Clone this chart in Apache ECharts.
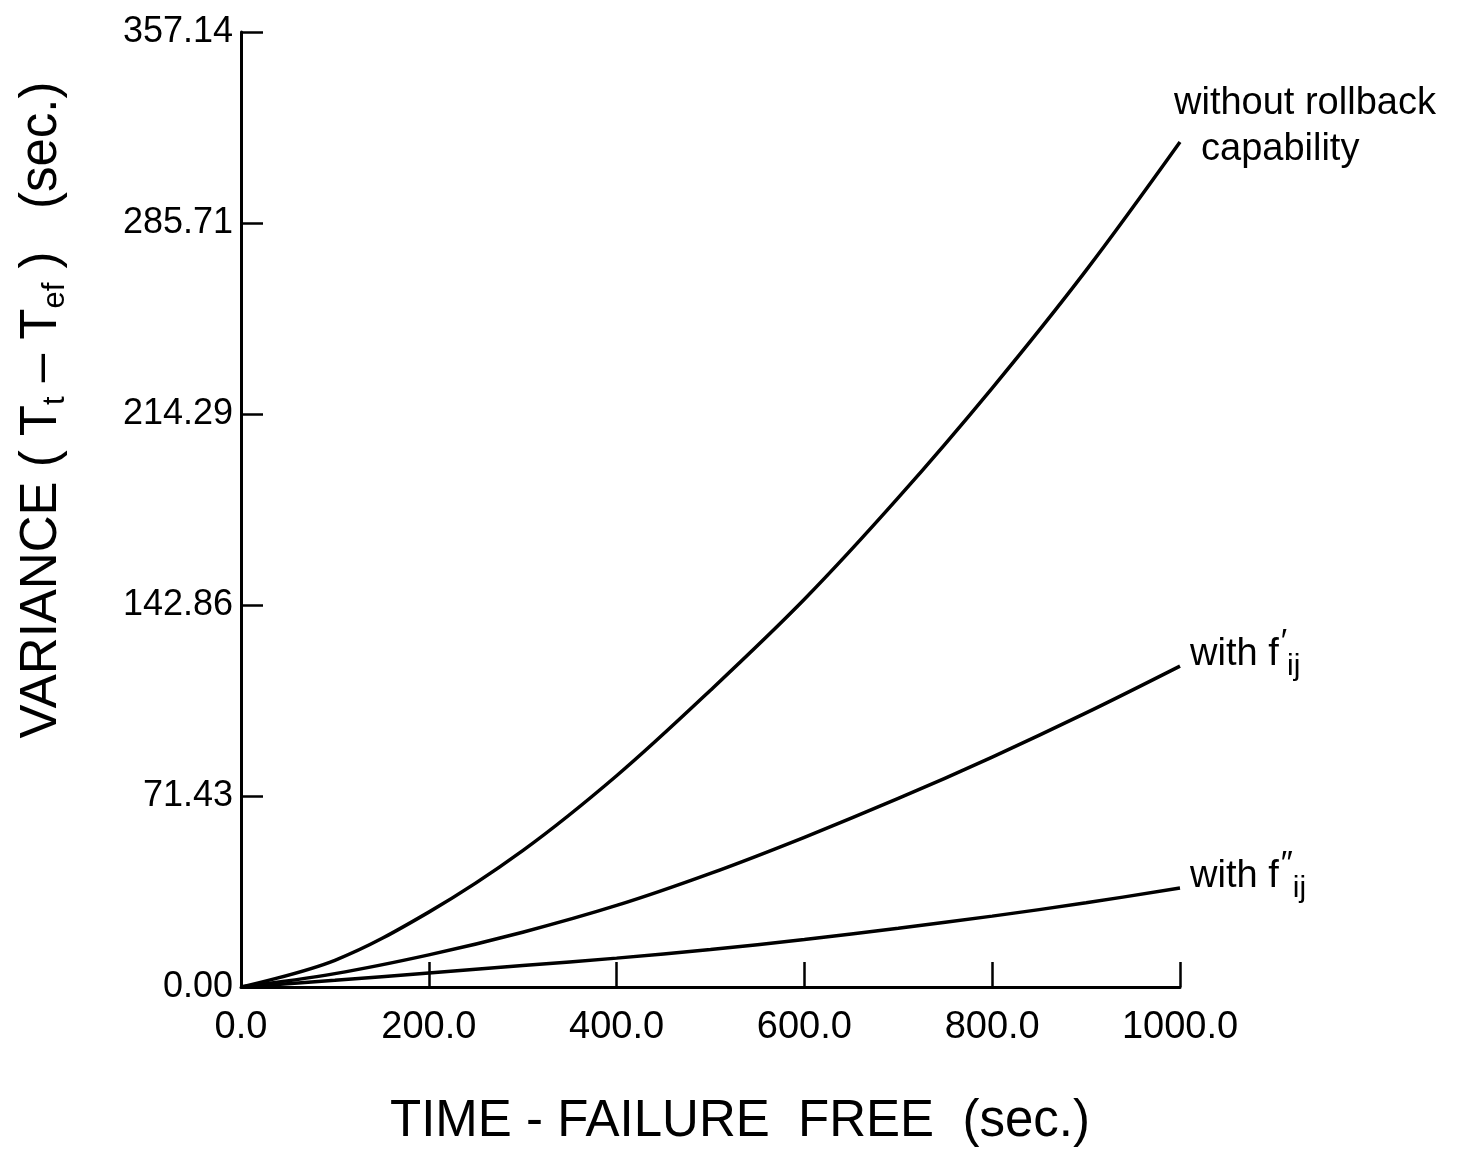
<!DOCTYPE html>
<html>
<head>
<meta charset="utf-8">
<script src="https://cdn.jsdelivr.net/npm/echarts@6/dist/echarts.min.js"></script>
<style>
html,body{margin:0;padding:0;background:#fff;}
#chart{width:1467px;height:1151px;}
</style>
</head>
<body>
<div id="chart"></div>
<script>
// ---- data ----
const xValues = [0, 100, 200, 300, 400, 500, 600, 700, 800, 900, 1000];
const withoutRollback = [0, 10, 28, 51, 79, 111, 145, 183, 224, 268, 316];
const withFPrime = [0, 5, 12, 20.5, 30.5, 42.5, 56, 70.5, 86, 102.5, 120];
const withFDoublePrime = [0, 2.5, 5.2, 8, 10.8, 14, 17.8, 22, 26.5, 31.5, 37];
const yTickLabels = ['0.00', '71.43', '142.86', '214.29', '285.71', '357.14'];
const xTickLabels = ['0.0', '200.0', '400.0', '600.0', '800.0', '1000.0'];

const FONT = 'Liberation Sans';
const yMax = 2500 / 7;
const yInterval = 500 / 7;

function pairs(vals) { return xValues.map((x, i) => [x, vals[i]]); }

const chart = echarts.init(document.getElementById('chart'), null, {renderer: 'canvas'});

const lineStyle = {color: '#000', width: 3.5};
const subRich = {
  a: {fontFamily: FONT, fontSize: 38, color: '#000'},
  sup: {fontFamily: FONT, fontSize: 34, color: '#000', verticalAlign: 'top', padding: [0, 0, 16, 2]},
  sub: {fontFamily: FONT, fontSize: 30, color: '#000', verticalAlign: 'bottom', padding: [26, 0, 0, 0]}
};

chart.setOption({
  backgroundColor: '#fff',
  animation: false,
  grid: {left: 241, right: 287, top: 32, bottom: 164},
  xAxis: {
    type: 'value', min: 0, max: 1000, interval: 200,
    axisLine: {show: true, lineStyle: {color: '#000', width: 3}},
    axisTick: {show: true, inside: true, length: 25, lineStyle: {color: '#000', width: 2.5}},
    axisLabel: {
      margin: 22, color: '#000', fontFamily: FONT, fontSize: 38,
      formatter: (v) => xTickLabels[Math.round(v / 200)]
    },
    splitLine: {show: false}
  },
  yAxis: {
    type: 'value', min: 0, max: yMax, interval: yInterval,
    axisLine: {show: true, lineStyle: {color: '#000', width: 3}},
    axisTick: {show: true, inside: true, length: 22, lineStyle: {color: '#000', width: 2.5}},
    axisLabel: {
      margin: 8, color: '#000', fontFamily: FONT, fontSize: 36,
      formatter: (v) => yTickLabels[Math.round(v / yInterval)]
    },
    splitLine: {show: false}
  },
  series: [
    {
      type: 'line', data: pairs(withoutRollback), smooth: 0.35, showSymbol: false,
      lineStyle: lineStyle,
      endLabel: {
        show: true, offset: [-14, -16], align: 'left',
        formatter: '{a|without rollback}\n{b|capability}',
        rich: {
          a: {fontFamily: FONT, fontSize: 38, color: '#000', lineHeight: 46},
          b: {fontFamily: FONT, fontSize: 38, color: '#000', lineHeight: 46, padding: [0, 0, 0, 27]}
        }
      }
    },
    {
      type: 'line', data: pairs(withFPrime), smooth: 0.35, showSymbol: false,
      lineStyle: lineStyle,
      endLabel: {
        show: true, offset: [2, -12],
        formatter: '{a|with f}{sup|′}{sub|ij}',
        rich: subRich
      }
    },
    {
      type: 'line', data: pairs(withFDoublePrime), smooth: 0.35, showSymbol: false,
      lineStyle: lineStyle,
      endLabel: {
        show: true, offset: [2, -12],
        formatter: '{a|with f}{sup|″}{sub|ij}',
        rich: subRich
      }
    }
  ],
  graphic: [
    {
      type: 'text', x: 42, y: 410, rotation: Math.PI / 2,
      style: {
        text: '{m|VARIANCE ( T}{s|t}{m| – T}{s|ef}{m| )   (sec.)}',
        align: 'center', verticalAlign: 'middle',
        rich: {
          m: {fontFamily: FONT, fontSize: 51, fill: '#000'},
          s: {fontFamily: FONT, fontSize: 31, fill: '#000', verticalAlign: 'bottom', padding: [26, 0, 0, 0]}
        }
      }
    },
    {
      type: 'text', x: 740, y: 1122,
      style: {
        text: 'TIME - FAILURE  FREE  (sec.)',
        align: 'center', verticalAlign: 'middle',
        fontFamily: FONT, fontSize: 51, fill: '#000'
      }
    }
  ]
});
</script>
</body>
</html>
